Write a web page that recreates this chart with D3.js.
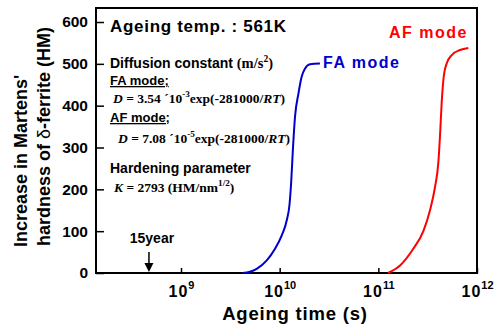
<!DOCTYPE html>
<html>
<head>
<meta charset="utf-8">
<script src="https://cdn.jsdelivr.net/npm/d3@7"></script>
<style>
  html, body { margin: 0; padding: 0; background: #fff; }
  svg { display: block; }
  .sans { font-family: "Liberation Sans", Arial, sans-serif; font-weight: bold; }
  .serif { font-family: "Liberation Serif", "Times New Roman", serif; font-weight: bold; }
</style>
</head>
<body>
<svg id="chart" width="494" height="329"></svg>
<script>
// ---- data ----
const yTicks = [0, 100, 200, 300, 400, 500, 600];
const xTickExps = [9, 10, 11, 12];
// FA mode: ageing time (s) vs hardness increase (HM)
const faTime = [4.2e9, 5.0e9, 5.85e9, 7.4e9, 8.97e9, 1.05e10, 1.18e10, 1.26e10, 1.31e10, 1.36e10, 1.43e10, 1.55e10, 1.67e10, 1.81e10, 2.03e10, 2.56e10];
const faHM   = [0,     3,     10,     30,    58,     90,     126,    165,    220,    293,    373,    429,    469,    489,    499,    501];
// AF mode
const afTime = [1.25e11, 1.66e11, 2.26e11, 2.86e11, 3.34e11, 3.75e11, 4.06e11, 4.22e11, 4.39e11, 4.62e11, 4.93e11, 5.55e11, 6.73e11, 8.17e11];
const afHM   = [0,       18,      58,      100,     150,     205,     265,     329,     409,     473,     501,     521,     533,     538];
const fifteenYears = 15 * 365.25 * 86400;
const seriesLabels = ["FA mode", "AF mode"];

// ---- layout ----
const svg = d3.select("#chart");
const L = 96, R = 477, T = 8, B = 273;
const x = d3.scaleLog().domain([Math.pow(10, 8.1385), 1e12]).range([L, R]);
const y = d3.scaleLinear().domain([0, 633.5]).range([B, T]);

// y axis
const yAxis = svg.append("g").attr("transform", `translate(${L},0)`)
  .call(d3.axisLeft(y).tickValues(yTicks).tickSize(-8).tickPadding(8).tickFormat(d3.format("d")));
yAxis.select(".domain").remove();
yAxis.selectAll(".tick line").attr("stroke", "#000").attr("stroke-width", 1.5);
yAxis.selectAll(".tick text").attr("class", "sans").attr("font-size", 15.5).attr("fill", "#000");

// x axis
const xAxis = svg.append("g").attr("transform", `translate(0,${B})`)
  .call(d3.axisBottom(x).tickValues(xTickExps.map(e => Math.pow(10, e))).tickSize(-5).tickPadding(13).tickFormat(() => ""));
xAxis.select(".domain").remove();
xAxis.selectAll(".tick line").attr("stroke", "#000").attr("stroke-width", 1.5);
xAxis.selectAll(".tick text").each(function(d, i) {
  const t = d3.select(this).attr("class", "sans").attr("font-size", 16).attr("fill", "#000")
    .style("letter-spacing", "1px");
  t.append("tspan").text("10");
  t.append("tspan").attr("dy", -8).attr("font-size", 11).style("letter-spacing", "0px").text(String(xTickExps[i]));
});

// frame
svg.append("rect").attr("x", L).attr("y", T).attr("width", R - L).attr("height", B - T)
  .attr("fill", "none").attr("stroke", "#000").attr("stroke-width", 2);

// curves
const line = d3.line().x(d => x(d[0])).y(d => y(d[1])).curve(d3.curveMonotoneX);
svg.append("path").datum(faTime.map((t, i) => [t, faHM[i]]))
  .attr("d", line).attr("fill", "none").attr("stroke", "#0000cc").attr("stroke-width", 2);
svg.append("path").datum(afTime.map((t, i) => [t, afHM[i]]))
  .attr("d", line).attr("fill", "none").attr("stroke", "#ff0000").attr("stroke-width", 2);

// series labels
svg.append("text").attr("class", "sans").attr("x", 323).attr("y", 68).attr("font-size", 16)
  .style("letter-spacing", "1.5px").attr("fill", "#0000cc").text(seriesLabels[0]);
svg.append("text").attr("class", "sans").attr("x", 389).attr("y", 38).attr("font-size", 16)
  .style("letter-spacing", "1.5px").attr("fill", "#ff0000").text(seriesLabels[1]);

// 15 year arrow
const ax = x(fifteenYears);
svg.append("line").attr("x1", ax).attr("x2", ax).attr("y1", 252).attr("y2", 264)
  .attr("stroke", "#000").attr("stroke-width", 1.5);
svg.append("path").attr("d", `M${ax - 4.5},263 L${ax + 4.5},263 L${ax},${B - 1} Z`).attr("fill", "#000");
svg.append("text").attr("class", "sans").attr("x", ax + 3).attr("y", 243).attr("font-size", 14)
  .attr("text-anchor", "middle").text("15year");

// rich text helper
function rich(xp, yp, parts, cls, size) {
  const t = svg.append("text").attr("class", cls).attr("x", xp).attr("y", yp).attr("font-size", size).attr("fill", "#000");
  let shift = 0;
  parts.forEach(p => {
    const s = t.append("tspan").text(p.t);
    const target = p.sup ? -6 : 0;
    if (target !== shift) { s.attr("dy", target - shift); shift = target; }
    if (p.sup) s.attr("font-size", size * 0.68);
    if (p.it) s.attr("font-style", "italic");
    if (p.cls) s.attr("class", p.cls);
    if (p.fs) s.attr("font-size", p.fs);
  });
  return t;
}

// annotation block
svg.append("text").attr("class", "sans").attr("x", 110).attr("y", 32).attr("font-size", 17)
  .style("letter-spacing", "0.7px").text("Ageing temp. : 561K");

rich(110, 68, [{t: "Diffusion constant "}, {t: "(m/s", cls: "serif", fs: 14.5}, {t: "2", sup: true, cls: "serif"}, {t: ")", cls: "serif", fs: 14.5}], "sans", 14);

svg.append("text").attr("class", "sans").attr("x", 110).attr("y", 85).attr("font-size", 13)
  .style("text-decoration", "underline").text("FA mode;");
rich(113, 103, [{t: "D", it: true}, {t: " = 3.54 ´10"}, {t: "-3", sup: true}, {t: "exp(-281000/"}, {t: "RT", it: true}, {t: ")"}], "serif", 13.5);

svg.append("text").attr("class", "sans").attr("x", 110).attr("y", 122).attr("font-size", 13)
  .style("text-decoration", "underline").text("AF mode;");
rich(118, 143, [{t: "D", it: true}, {t: " = 7.08 ´10"}, {t: "-5", sup: true}, {t: "exp(-281000/"}, {t: "RT", it: true}, {t: ")"}], "serif", 13.5);

svg.append("text").attr("class", "sans").attr("x", 110).attr("y", 173).attr("font-size", 14)
  .text("Hardening parameter");
rich(114, 192, [{t: "K", it: true}, {t: " = 2793 (HM/nm"}, {t: "1/2", sup: true}, {t: ")"}], "serif", 13.5);

// axis titles
svg.append("text").attr("class", "sans").attr("x", 295).attr("y", 320).attr("font-size", 18.5)
  .attr("text-anchor", "middle").style("letter-spacing", "0.8px").text("Ageing time (s)");

const yt = svg.append("g");
yt.append("text").attr("class", "sans").attr("font-size", 18)
  .attr("transform", "translate(27,247) rotate(-90)").text("Increase in Martens'");
const yt2 = yt.append("text").attr("class", "sans").attr("font-size", 18)
  .attr("transform", "translate(50,246) rotate(-90)");
yt2.append("tspan").text("hardness of ");
yt2.append("tspan").attr("font-weight", "normal").text("δ");
yt2.append("tspan").text("-ferrite (HM)");
</script>
</body>
</html>
